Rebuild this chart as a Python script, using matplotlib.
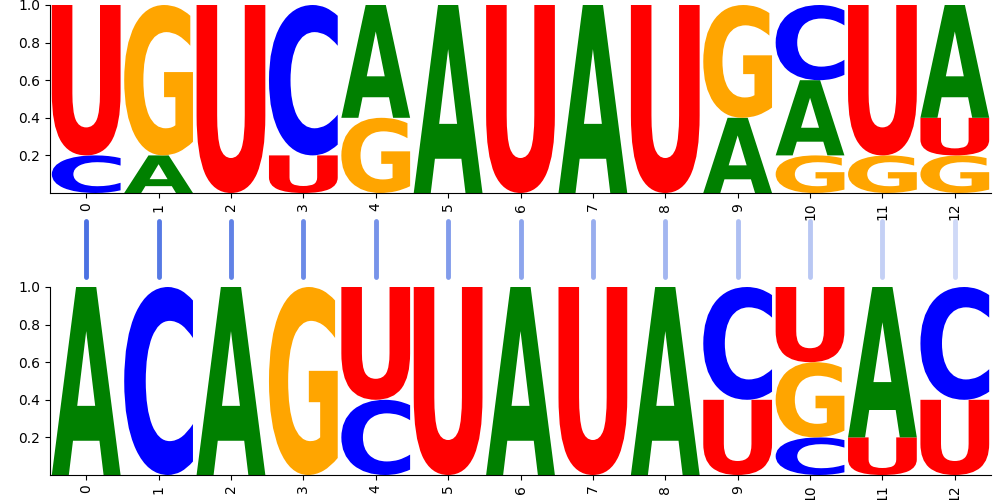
import matplotlib
matplotlib.use('Agg')

import matplotlib.pyplot as plt
import numpy as np
from matplotlib.textpath import TextPath
from matplotlib.font_manager import FontProperties
from matplotlib.patches import PathPatch
from matplotlib.transforms import Affine2D

# Alphabet and per-position probabilities (top and bottom logos)
letters = ['A', 'C', 'G', 'U']
positions = list(range(13))

top_A = [0.0, 0.2, 0.0, 0.0, 0.6, 1.0, 0.0, 1.0, 0.0, 0.4, 0.4, 0.0, 0.6]
top_C = [0.2, 0.0, 0.0, 0.8, 0.0, 0.0, 0.0, 0.0, 0.0, 0.0, 0.4, 0.0, 0.0]
top_G = [0.0, 0.8, 0.0, 0.0, 0.4, 0.0, 0.0, 0.0, 0.0, 0.6, 0.2, 0.2, 0.2]
top_U = [0.8, 0.0, 1.0, 0.2, 0.0, 0.0, 1.0, 0.0, 1.0, 0.0, 0.0, 0.8, 0.2]

bot_A = [1.0, 0.0, 1.0, 0.0, 0.0, 0.0, 1.0, 0.0, 1.0, 0.0, 0.0, 0.8, 0.0]
bot_C = [0.0, 1.0, 0.0, 0.0, 0.4, 0.0, 0.0, 0.0, 0.0, 0.6, 0.2, 0.0, 0.6]
bot_G = [0.0, 0.0, 0.0, 1.0, 0.0, 0.0, 0.0, 0.0, 0.0, 0.0, 0.4, 0.0, 0.0]
bot_U = [0.0, 0.0, 0.0, 0.0, 0.6, 1.0, 0.0, 1.0, 0.0, 0.4, 0.4, 0.2, 0.4]

COLORS = {'A': 'green', 'C': 'blue', 'G': 'orange', 'U': 'red'}
FONT = FontProperties(family='DejaVu Sans', weight='bold')
WIDTH = 0.95


def draw_glyph(ax, c, x, floor, height):
    """Stretch a letter so it fills the box [x-w/2, x+w/2] x [floor, floor+height]"""
    tp = TextPath((0, 0), c, size=1, prop=FONT)
    bb = tp.get_extents()
    t = (Affine2D()
         .translate(-bb.x0, -bb.y0)
         .scale(WIDTH / bb.width, height / bb.height)
         .translate(x - WIDTH / 2, floor))
    ax.add_patch(PathPatch(t.transform_path(tp), facecolor=COLORS[c],
                           edgecolor='none', lw=0))


def draw_logo(ax, matrix):
    for i in positions:
        vals = [(matrix[c][i], c) for c in letters]
        vals = sorted(vals, key=lambda v: v[0])  # stable: smallest at bottom
        floor = 0.0
        for v, c in vals:
            if v <= 0:
                continue
            draw_glyph(ax, c, i, floor, v)
            floor += v
    ax.set_xlim(-0.5, len(positions) - 0.5)
    ax.set_ylim(0, 1)
    ax.set_xticks(positions)
    ax.set_xticklabels([str(p) for p in positions], rotation=90)
    ax.set_yticks([0.2, 0.4, 0.6, 0.8, 1.0])
    ax.spines['top'].set_visible(False)
    ax.spines['right'].set_visible(False)


fig = plt.figure(figsize=(10, 5), dpi=100)

ax_top = fig.add_axes([0.05, 0.614, 0.941, 0.376])
draw_logo(ax_top, {'A': top_A, 'C': top_C, 'G': top_G, 'U': top_U})

ax_bot = fig.add_axes([0.05, 0.05, 0.941, 0.376])
draw_logo(ax_bot, {'A': bot_A, 'C': bot_C, 'G': bot_G, 'U': bot_U})

# Links between the two logos
ax_mid = fig.add_axes([0.05, 0.447, 0.941, 0.112])
ax_mid.set_xlim(-0.5, len(positions) - 0.5)
ax_mid.set_ylim(0, 1)
ax_mid.axis('off')
alphas = np.linspace(0.95, 0.25, len(positions))
for i, a in zip(positions, alphas):
    ax_mid.plot([i, i], [0, 1], color='royalblue', alpha=a, lw=3.5,
                solid_capstyle='round', clip_on=False)

fig.savefig('out.png', dpi=100)
